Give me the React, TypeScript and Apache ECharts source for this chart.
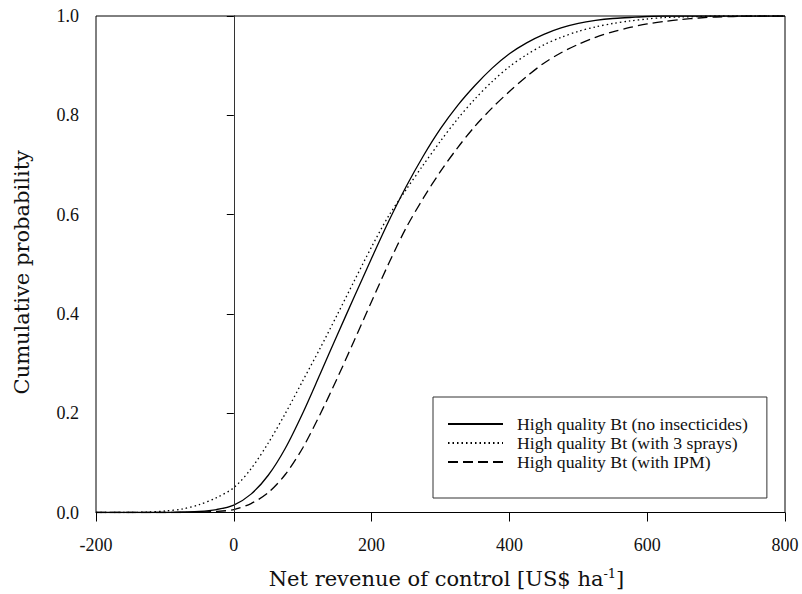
import React, { useEffect, useRef } from "react";
import * as echarts from "echarts";

const xValues = [-200, -175, -150, -125, -100, -75, -50, -25, 0, 25, 50, 75, 100, 125, 150, 175, 200, 225, 250, 275, 300, 325, 350, 375, 400, 425, 450, 475, 500, 525, 550, 575, 600, 625, 650, 675, 700, 725, 750, 775, 800];

const noInsecticides = [0, 0, 0, 0, 0, 0.001, 0.002, 0.006, 0.015, 0.037, 0.075, 0.13, 0.2, 0.278, 0.357, 0.435, 0.512, 0.587, 0.656, 0.718, 0.773, 0.82, 0.86, 0.895, 0.924, 0.946, 0.963, 0.976, 0.985, 0.991, 0.995, 0.997, 0.999, 1, 1, 1, 1, 1, 1, 1, 1];
const threeSprays = [0, 0, 0, 0.001, 0.003, 0.007, 0.016, 0.03, 0.05, 0.088, 0.14, 0.2, 0.265, 0.33, 0.398, 0.467, 0.535, 0.598, 0.65, 0.7, 0.748, 0.793, 0.833, 0.868, 0.898, 0.922, 0.942, 0.957, 0.969, 0.978, 0.985, 0.99, 0.994, 0.997, 0.998, 0.999, 1, 1, 1, 1, 1];
const withIPM = [0, 0, 0, 0, 0, 0, 0.001, 0.002, 0.006, 0.018, 0.04, 0.077, 0.13, 0.197, 0.27, 0.347, 0.425, 0.502, 0.573, 0.633, 0.687, 0.735, 0.778, 0.815, 0.848, 0.878, 0.905, 0.926, 0.943, 0.957, 0.968, 0.977, 0.984, 0.989, 0.993, 0.996, 0.998, 0.999, 1, 1, 1];

const seriesNames = [
  "High quality Bt (no insecticides)",
  "High quality Bt (with 3 sprays)",
  "High quality Bt (with IPM)",
];

const xTicks = { min: -200, max: 800, interval: 200 };
const yTicks = { min: 0, max: 1, interval: 0.2 };

const FONT = "Liberation Serif";
const NAME_FONT = "DejaVu Serif";

export default function App() {
  const ref = useRef<HTMLDivElement>(null);
  useEffect(() => {
    if (!ref.current) return;
    const chart = echarts.init(ref.current, undefined, { renderer: "svg" });
    const toPairs = (ys: number[]) => xValues.map((x, i) => [x, ys[i]]);
    const lineTypes: any[] = ["solid", [1.5, 3], [10, 5]];
    const datasets = [noInsecticides, threeSprays, withIPM];
    chart.setOption({
      animation: false,
      backgroundColor: "#fff",
      textStyle: { fontFamily: FONT, color: "#111" },
      grid: {
        left: 96,
        right: 17,
        top: 16,
        bottom: 81,
        show: true,
        borderColor: "#000",
        borderWidth: 1,
      },
      legend: {
        orient: "vertical",
        left: 433,
        top: 397,
        padding: [18, 19, 27, 14],
        itemGap: 1,
        itemWidth: 55,
        itemHeight: 14,
        borderColor: "#333",
        borderWidth: 1,
        backgroundColor: "#fff",
        itemStyle: { opacity: 0 },
        textStyle: { fontFamily: FONT, fontSize: 17.7, color: "#111", padding: [0, 0, 0, 9] },
        data: seriesNames.map((n) => ({ name: n })),
      },
      xAxis: {
        type: "value",
        min: xTicks.min,
        max: xTicks.max,
        interval: xTicks.interval,
        name: "Net revenue of control [US$ ha{sup|-1}]",
        nameLocation: "middle",
        nameGap: 54,
        nameTextStyle: {
          fontFamily: NAME_FONT,
          fontSize: 21,
          color: "#111",
          padding: [0, 0, 0, 12],
          rich: {
            sup: { fontFamily: NAME_FONT, fontSize: 13, verticalAlign: "top", lineHeight: 24, color: "#111" },
          },
        },
        splitLine: { show: false },
        axisLine: { show: true, onZero: false, lineStyle: { color: "#000", width: 1 } },
        axisTick: { show: true, inside: false, length: 9, lineStyle: { color: "#000" } },
        axisLabel: { fontFamily: FONT, fontSize: 18, color: "#111", margin: 23 },
      },
      yAxis: {
        type: "value",
        min: yTicks.min,
        max: yTicks.max,
        interval: yTicks.interval,
        name: "Cumulative probability",
        nameLocation: "middle",
        nameGap: 64,
        nameTextStyle: { fontFamily: NAME_FONT, fontSize: 21, color: "#111", padding: [0, 16, 0, 0] },
        splitLine: { show: false },
        axisLine: { show: true, lineStyle: { color: "#000", width: 1 } },
        axisTick: { show: true, inside: false, length: 7, lineStyle: { color: "#000" } },
        axisLabel: {
          fontFamily: FONT,
          fontSize: 18,
          color: "#111",
          margin: 17,
          formatter: (v: number) => v.toFixed(1),
        },
      },
      series: datasets.map((ys, i) => ({
        name: seriesNames[i],
        type: "line",
        data: toPairs(ys),
        smooth: 0.3,
        symbol: "none",
        showSymbol: false,
        lineStyle: { color: "#000", width: 1.3, type: lineTypes[i] },
        itemStyle: { color: "#000" },
        z: 3,
        markLine:
          i === 0
            ? {
                silent: true,
                symbol: "none",
                label: { show: false },
                lineStyle: { color: "#333", width: 1, type: "solid" },
                data: [{ xAxis: 0 }],
              }
            : undefined,
      })),
    });
    return () => chart.dispose();
  }, []);
  return (
    <div
      ref={ref}
      style={{ width: 802, height: 594, position: "fixed", left: 0, top: 0 }}
    />
  );
}
